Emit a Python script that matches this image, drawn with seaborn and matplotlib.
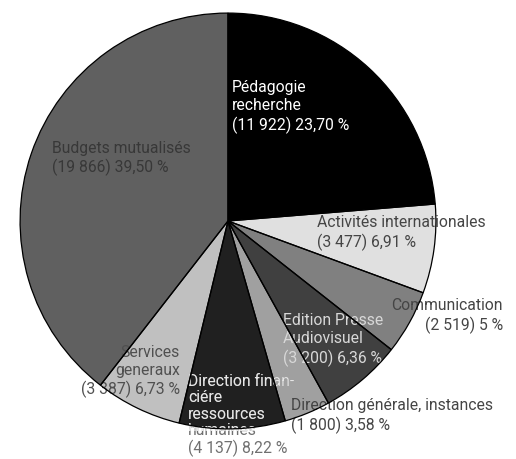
import matplotlib
matplotlib.use("Agg")
import matplotlib.pyplot as plt
import seaborn as sns

categories = ["Pédagogie\nrecherche", "Activités internationales", "Communication",
              "Edition Presse\nAudiovisuel", "Direction générale, instances",
              "Direction finan-\nciére\nressources\nhumaines", "Services\ngeneraux",
              "Budgets mutualisés"]
amounts = [11922, 3477, 2519, 3200, 1800, 4137, 3387, 19866]
amount_labels = ["11 922", "3 477", "2 519", "3 200", "1 800", "4 137", "3 387", "19 866"]
percent_labels = ["23,70 %", "6,91 %", "5 %", "6,36 %", "3,58 %", "8,22 %", "6,73 %", "39,50 %"]

slice_colors = ["#000000", "#e0e0e0", "#808080", "#404040", "#a0a0a0", "#202020", "#c0c0c0", "#606060"]
text_colors = ["#ffffff", "#454545", "#454545", "#d8d8d8", "#454545", "#e6e6e6", "#505050", "#383838"]
# label anchor positions in pixels (x, top y), alignment and line spacing
label_pos = [(232, 80), (317, 215), (503, 298), (283, 313), (291, 398), (188, 374), (180, 345), (52, 141)]
label_ha = ["left", "left", "right", "left", "left", "left", "right", "left"]
label_ls = [1.28, 1.25, 1.3, 1.28, 1.25, 1.12, 1.23, 1.18]

sns.set_theme(style="white")
plt.rcParams["font.family"] = ["Roboto", "DejaVu Sans"]

W, H = 516, 460
fig = plt.figure(figsize=(W / 100, H / 100), dpi=100)
cx, cy, r = 228, 222, 210
ax = fig.add_axes([(cx - r) / W, (H - cy - r) / H, 2 * r / W, 2 * r / H])
wedges, _ = ax.pie(amounts, colors=slice_colors, startangle=90, counterclock=False,
                   radius=1, wedgeprops=dict(edgecolor="none", linewidth=0))
edges, _ = ax.pie(amounts, colors=["none"] * len(amounts), startangle=90, counterclock=False,
                  radius=1, wedgeprops=dict(edgecolor="black", linewidth=0.9, zorder=5))
ax.set_xlim(-1.01, 1.01)
ax.set_ylim(-1.01, 1.01)
ax.set_aspect("equal")
ax.axis("off")

for i, cat in enumerate(categories):
    txt = f"{cat}\n({amount_labels[i]}) {percent_labels[i]}"
    px, py = label_pos[i]
    kw = dict(transform=fig.transFigure, ha=label_ha[i], va="top", fontsize=11.3,
              linespacing=label_ls[i], multialignment=label_ha[i],
              zorder=3, clip_on=False)
    if i == 5:
        ax.text(px / W, 1 - py / H, txt, color="#707070", **kw)
        t = ax.text(px / W, 1 - py / H, txt, color=text_colors[i], **kw)
        t.set_clip_on(True)
        t.set_clip_path(wedges[i])
    else:
        ax.text(px / W, 1 - py / H, txt, color=text_colors[i], **kw)

fig.savefig("out.png", dpi=100)
